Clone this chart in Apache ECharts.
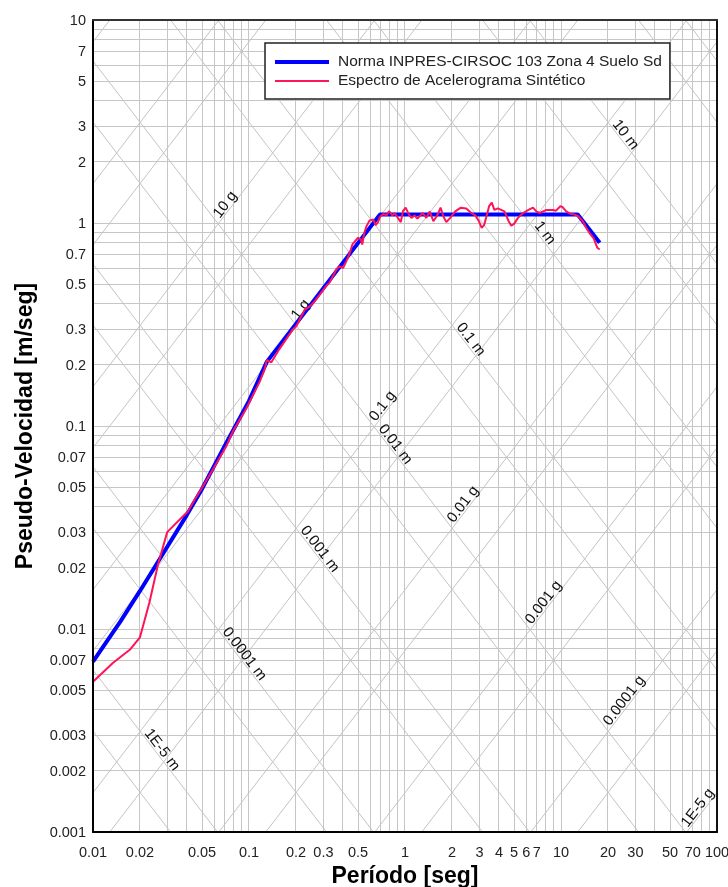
<!DOCTYPE html>
<html>
<head>
<meta charset="utf-8">
<script src="https://cdn.jsdelivr.net/npm/echarts@6/dist/echarts.min.js"></script>
<style>
  html, body { margin: 0; padding: 0; background: #fff; }
  #chart { width: 728px; height: 887px; }
</style>
</head>
<body>
<div id="chart"></div>
<script>
// Design spectrum: INPRES-CIRSOC 103, Zona 4, Suelo Sd  (period [s] -> pseudo-velocity [m/s])
const normaPeriod = [0.01, 0.015, 0.02, 0.03, 0.04, 0.05, 0.07, 0.1, 0.13, 0.69, 12.8, 17.7];
const normaPsv    = [0.0069, 0.0109, 0.0154, 0.0255, 0.0365, 0.049, 0.080, 0.133, 0.207, 1.10, 1.10, 0.80];

// Response spectrum of the synthetic accelerogram
const sinteticoPeriod = [
  0.01, 0.0134, 0.0172, 0.020, 0.023, 0.0261, 0.0299, 0.036, 0.0407, 0.0449,
  0.0496, 0.0587, 0.0718, 0.0789, 0.0961, 0.117, 0.126, 0.130, 0.139, 0.157,
  0.191, 0.201, 0.207, 0.228, 0.245, 0.264, 0.284, 0.313, 0.329, 0.363,
  0.381, 0.401, 0.421, 0.443, 0.460, 0.471, 0.500, 0.521, 0.532, 0.549,
  0.566, 0.593, 0.627, 0.648, 0.671, 0.692, 0.729, 0.76, 0.79, 0.83,
  0.86, 0.90, 0.94, 0.97, 1.01, 1.06, 1.10, 1.15, 1.20, 1.24,
  1.30, 1.37, 1.44, 1.52, 1.61, 1.69, 1.76, 1.84, 1.95, 2.10,
  2.28, 2.47, 2.66, 2.82, 2.98, 3.10, 3.22, 3.34, 3.46, 3.60,
  3.74, 3.93, 4.13, 4.34, 4.62, 4.80, 5.00, 5.30, 5.71, 6.19,
  6.61, 6.95, 7.30, 8.07, 8.9, 9.3, 9.9, 10.2, 10.8, 11.5,
  12.2, 12.9, 13.8, 14.5, 15.2, 16.2, 17.1, 17.7
];
const sinteticoPsv = [
  0.0055, 0.0068, 0.0079, 0.0091, 0.0135, 0.0208, 0.0300, 0.0346, 0.0380, 0.0434,
  0.0491, 0.0611, 0.080, 0.0942, 0.122, 0.165, 0.190, 0.211, 0.206, 0.240,
  0.299, 0.310, 0.307, 0.375, 0.387, 0.412, 0.444, 0.490, 0.510, 0.590,
  0.612, 0.600, 0.649, 0.713, 0.784, 0.770, 0.846, 0.830, 0.784, 0.895,
  0.964, 1.03, 1.04, 0.975, 1.01, 1.073, 1.109, 1.09, 1.143, 1.09,
  1.12, 1.06, 1.01, 1.143, 1.19, 1.10, 1.06, 1.09, 1.05, 1.08,
  1.12, 1.06, 1.14, 1.02, 1.09, 1.19, 1.08, 1.01, 1.06, 1.14,
  1.19, 1.18, 1.12, 1.09, 1.02, 0.947, 0.98, 1.09, 1.21, 1.26,
  1.16, 1.18, 1.16, 1.14, 1.02, 0.97, 0.99, 1.06, 1.12, 1.16,
  1.19, 1.14, 1.12, 1.16, 1.16, 1.15, 1.21, 1.20, 1.14, 1.11,
  1.10, 1.08, 1.02, 0.947, 0.895, 0.839, 0.755, 0.74
];

// Tick labels
const periodTicks = [0.01, 0.02, 0.05, 0.1, 0.2, 0.3, 0.5, 1, 2, 3, 4, 5, 6, 7, 10, 20, 30, 50, 70, 100];
const psvTicks = [0.001, 0.002, 0.003, 0.005, 0.007, 0.01, 0.02, 0.03, 0.05, 0.07,
                  0.1, 0.2, 0.3, 0.5, 0.7, 1, 2, 3, 5, 7, 10];

// Tripartite guide lines: constant spectral displacement [m] and constant acceleration [g]
const dispLines = [5e-6, 1e-5, 5e-5, 1e-4, 5e-4, 0.001, 0.005, 0.01, 0.05, 0.1, 0.5, 1, 5, 10, 50, 100];
const accLines  = [1e-5, 5e-5, 1e-4, 5e-4, 0.001, 0.005, 0.01, 0.05, 0.1, 0.5, 1, 5, 10, 50, 100, 500];
const dispLabelValues = [1e-5, 1e-4, 0.001, 0.01, 0.1, 1, 10];
const dispLabelText   = ['1E-5 m', '0.0001 m', '0.001 m', '0.01 m', '0.1 m', '1 m', '10 m'];
const accLabelValues  = [1e-5, 1e-4, 0.001, 0.01, 0.1, 1, 10];
const accLabelText    = ['1E-5 g', '0.0001 g', '0.001 g', '0.01 g', '0.1 g', '1 g', '10 g'];

const NAME_NORMA = 'Norma INPRES-CIRSOC 103 Zona 4 Suelo Sd';
const NAME_SINT  = 'Espectro de Acelerograma Sintético';

const FONT = '"Liberation Sans", Arial, sans-serif';
const G = 9.81, TWO_PI = 2 * Math.PI;
const T_MIN = 0.01, T_MAX = 100, V_MIN = 0.001, V_MAX = 10;
const lg = Math.log10;

// Segment of a constant-displacement line inside the plot box, in data units
function dispSegment(sd) {
  const k = lg(TWO_PI * sd);              // log V = k - log T
  const t1 = Math.max(lg(T_MIN), k - lg(V_MAX));
  const t2 = Math.min(lg(T_MAX), k - lg(V_MIN));
  return t1 < t2 ? [10 ** t1, 10 ** (k - t1), 10 ** t2, 10 ** (k - t2)] : null;
}
// Segment of a constant-acceleration line inside the plot box, in data units
function accSegment(a) {
  const k = lg(a * G / TWO_PI);           // log V = k + log T
  const t1 = Math.max(lg(T_MIN), lg(V_MIN) - k);
  const t2 = Math.min(lg(T_MAX), lg(V_MAX) - k);
  return t1 < t2 ? [10 ** t1, 10 ** (k + t1), 10 ** t2, 10 ** (k + t2)] : null;
}
// Label anchor: log-midpoint of the visible segment, plus the segment ends for the angle
function labelItem(seg) {
  return [Math.sqrt(seg[0] * seg[2]), Math.sqrt(seg[1] * seg[3]), seg[0], seg[1], seg[2], seg[3]];
}

// Rectangular log grid: 1..9 per decade
const periodGrid = [], psvGrid = [];
[0.01, 0.1, 1, 10].forEach(d => { for (let m = 1; m <= 9; m++) periodGrid.push(+(m * d).toPrecision(3)); });
periodGrid.push(100);
[0.001, 0.01, 0.1, 1].forEach(d => { for (let m = 1; m <= 9; m++) psvGrid.push(+(m * d).toPrecision(3)); });
psvGrid.push(10);

const gridSegments = [];
periodGrid.forEach(t => gridSegments.push([t, V_MIN, t, V_MAX]));
psvGrid.forEach(v => gridSegments.push([T_MIN, v, T_MAX, v]));

const diagSegments = [];
dispLines.forEach(s => { const g = dispSegment(s); if (g) diagSegments.push(g); });
accLines.forEach(a => { const g = accSegment(a); if (g) diagSegments.push(g); });

const diagLabels = [], diagLabelTexts = [];
dispLabelValues.forEach((s, i) => { const g = dispSegment(s); if (g) { diagLabels.push(labelItem(g)); diagLabelTexts.push(dispLabelText[i]); } });
accLabelValues.forEach((a, i) => { const g = accSegment(a); if (g) { diagLabels.push(labelItem(g)); diagLabelTexts.push(accLabelText[i]); } });

const crisp = v => Math.round(v - 0.5) + 0.5;

const chart = echarts.init(document.getElementById('chart'));

function axisBase(extra) {
  return Object.assign({
    type: 'log', logBase: 10,
    axisTick: { show: false }, axisLabel: { show: false },
    splitLine: { show: false }, minorSplitLine: { show: false },
    z: 10
  }, extra);
}

const titleStyle = { fontSize: 23, fontWeight: 'bold', color: '#000', fontFamily: FONT };

chart.setOption({
  backgroundColor: '#fff',
  animation: false,
  textStyle: { fontFamily: FONT },
  grid: { left: 93, top: 20, width: 624, height: 812, containLabel: false, outerBoundsMode: 'none' },
  legend: {
    data: [
      { name: NAME_NORMA, icon: 'path://M0,0L54,0L54,4L0,4Z' },
      { name: NAME_SINT, icon: 'path://M0,0L54,0L54,2L0,2Z' }
    ],
    orient: 'vertical',
    left: 265, top: 43,
    backgroundColor: '#fff',
    borderColor: '#222', borderWidth: 1.5, borderRadius: 0,
    padding: [11, 8, 10, 10],
    itemWidth: 54, itemHeight: 14, itemGap: 3,
    textStyle: { fontSize: 15.5, lineHeight: 15, color: '#222', fontFamily: FONT, padding: [0, 0, 0, 4] },
    z: 20
  },
  xAxis: [
    axisBase({
      min: T_MIN, max: T_MAX, position: 'bottom',
      axisLine: { show: true, onZero: false, lineStyle: { color: '#000', width: 2 } },
      name: 'Período [seg]', nameLocation: 'middle', nameGap: 33,
      nameTextStyle: titleStyle
    }),
    axisBase({
      min: T_MIN, max: T_MAX, position: 'top',
      axisLine: { show: true, onZero: false, lineStyle: { color: '#333', width: 2 } }
    })
  ],
  yAxis: [
    axisBase({
      min: V_MIN, max: V_MAX, position: 'left',
      axisLine: { show: true, onZero: false, lineStyle: { color: '#000', width: 2 } },
      name: 'Pseudo-Velocidad [m/seg]', nameLocation: 'middle', nameGap: 56,
      nameTextStyle: titleStyle
    }),
    axisBase({
      min: V_MIN, max: V_MAX, position: 'right',
      axisLine: { show: true, onZero: false, lineStyle: { color: '#111', width: 2 } }
    })
  ],
  series: [
    {
      // rectangular log grid
      type: 'custom', silent: true, z: 1,
      data: gridSegments,
      encode: { x: [0, 2], y: [1, 3] },
      renderItem: (params, api) => {
        const a = api.coord([api.value(0), api.value(1)]);
        const b = api.coord([api.value(2), api.value(3)]);
        const vertical = Math.abs(a[0] - b[0]) < 0.5;
        const x1 = vertical ? crisp(a[0]) : a[0], x2 = vertical ? crisp(b[0]) : b[0];
        const y1 = vertical ? a[1] : crisp(a[1]), y2 = vertical ? b[1] : crisp(b[1]);
        return { type: 'line', shape: { x1, y1, x2, y2 }, style: { stroke: '#c6c6c6', lineWidth: 1 } };
      }
    },
    {
      // diagonal displacement / acceleration lines
      type: 'custom', silent: true, z: 1,
      data: diagSegments,
      encode: { x: [0, 2], y: [1, 3] },
      renderItem: (params, api) => {
        const a = api.coord([api.value(0), api.value(1)]);
        const b = api.coord([api.value(2), api.value(3)]);
        return { type: 'line', shape: { x1: a[0], y1: a[1], x2: b[0], y2: b[1] }, style: { stroke: '#c4c4c4', lineWidth: 1 } };
      }
    },
    {
      // labels of the diagonal lines, written along each line, starting a little before its middle
      type: 'custom', silent: true, z: 2,
      data: diagLabels,
      encode: { x: [0, 2, 4], y: [1, 3, 5] },
      renderItem: (params, api) => {
        const m = api.coord([api.value(0), api.value(1)]);
        const a = api.coord([api.value(2), api.value(3)]);
        const b = api.coord([api.value(4), api.value(5)]);
        const ang = Math.atan2(b[1] - a[1], b[0] - a[0]);
        const dir = [Math.cos(ang), Math.sin(ang)];
        const up = [Math.sin(ang), -Math.cos(ang)];
        const back = 21, lift = 6;
        return {
          type: 'text',
          x: m[0] - back * dir[0] + lift * up[0],
          y: m[1] - back * dir[1] + lift * up[1],
          rotation: -ang,
          style: { text: diagLabelTexts[params.dataIndex], align: 'left', verticalAlign: 'middle',
                   font: '15px ' + FONT, fill: '#111' }
        };
      }
    },
    {
      // period tick labels
      type: 'custom', silent: true, z: 2,
      data: periodTicks.map(t => [t, V_MIN]),
      renderItem: (params, api) => {
        const p = api.coord([api.value(0), api.value(1)]);
        return { type: 'text', x: p[0], y: p[1] + 13,
                 style: { text: String(periodTicks[params.dataIndex]), align: 'center', verticalAlign: 'top',
                          font: '14.5px ' + FONT, fill: '#222' } };
      }
    },
    {
      // pseudo-velocity tick labels
      type: 'custom', silent: true, z: 2,
      data: psvTicks.map(v => [T_MIN, v]),
      renderItem: (params, api) => {
        const p = api.coord([api.value(0), api.value(1)]);
        return { type: 'text', x: p[0] - 7, y: p[1] + 1,
                 style: { text: String(psvTicks[params.dataIndex]), align: 'right', verticalAlign: 'middle',
                          font: '14.5px ' + FONT, fill: '#222' } };
      }
    },
    {
      name: NAME_NORMA,
      type: 'line', z: 5,
      data: normaPeriod.map((t, i) => [t, normaPsv[i]]),
      symbol: 'none',
      lineStyle: { color: '#0000ff', width: 4 },
      itemStyle: { color: '#0000ff' }
    },
    {
      name: NAME_SINT,
      type: 'line', z: 6,
      data: sinteticoPeriod.map((t, i) => [t, sinteticoPsv[i]]),
      symbol: 'none',
      lineStyle: { color: '#ff1458', width: 2 },
      itemStyle: { color: '#ff1458' }
    }
  ]
});
</script>
</body>
</html>
